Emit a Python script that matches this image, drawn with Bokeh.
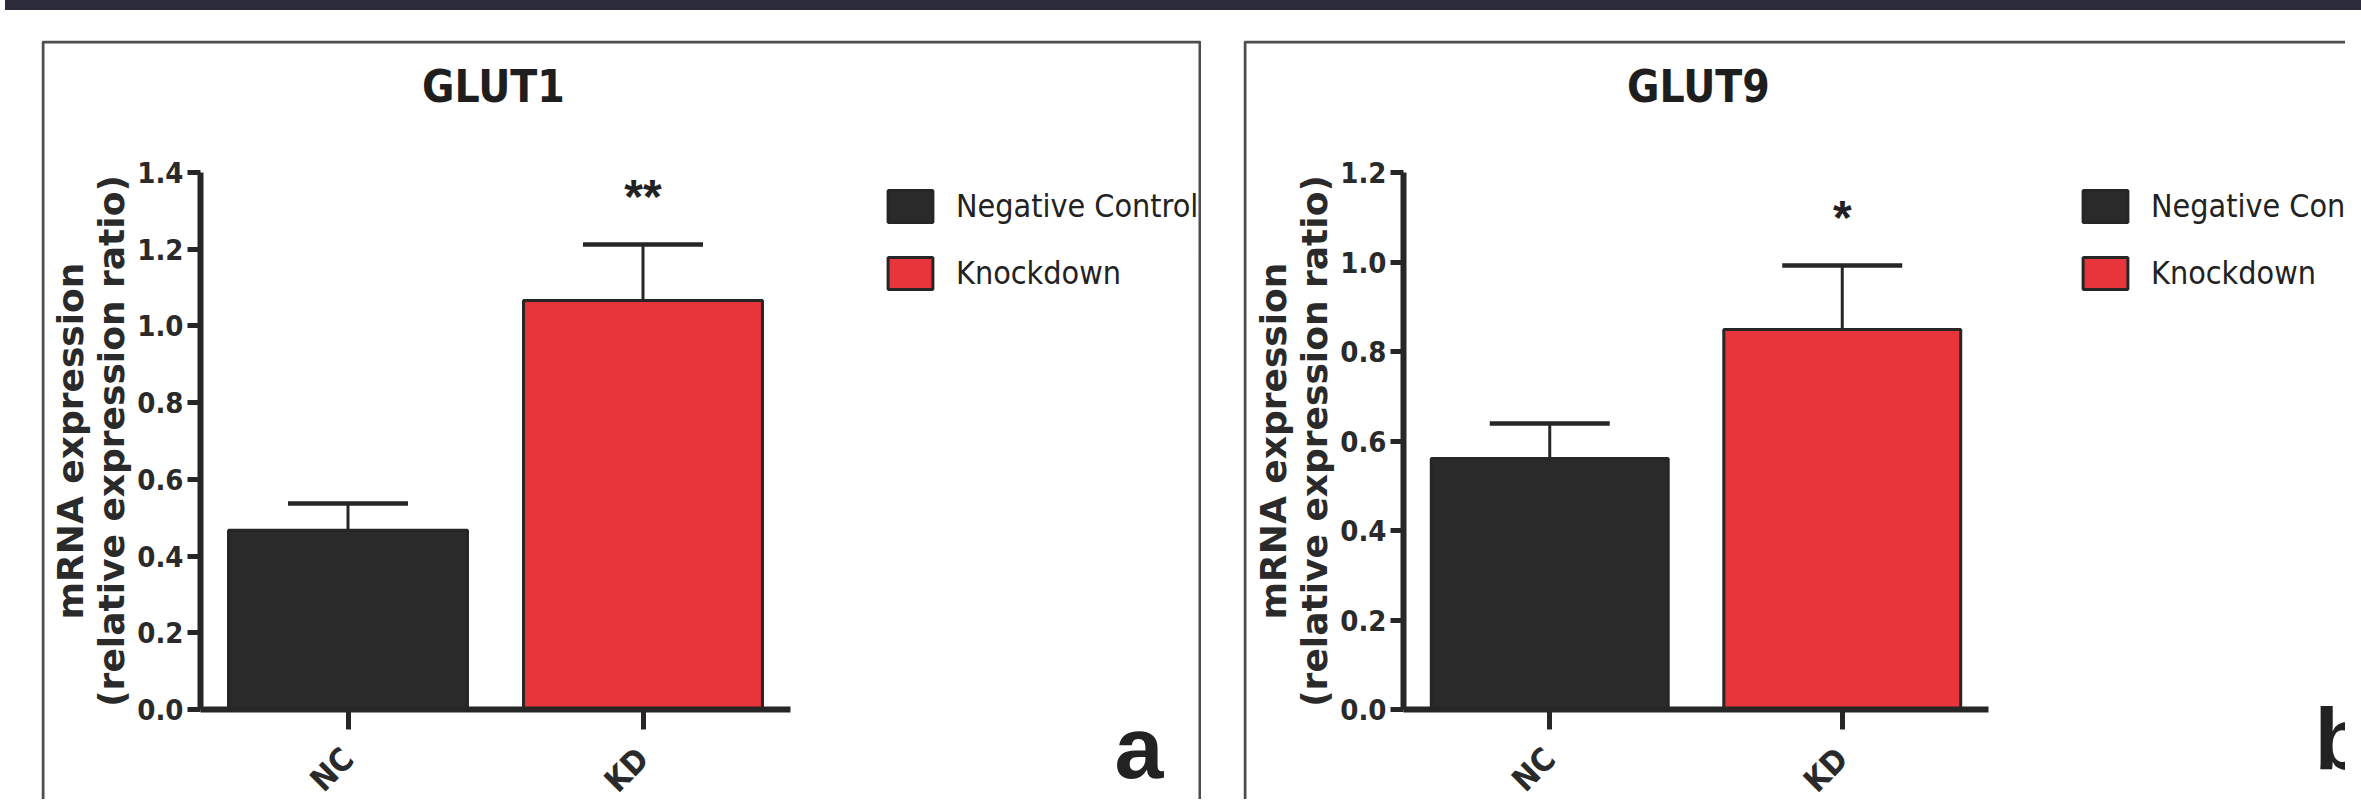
import math
from bokeh.plotting import figure
from bokeh.models import (ColumnDataSource, Range1d, Whisker, TeeHead, Legend, LegendItem,
                          Label, BoxAnnotation, Div, Spacer, FixedTicker, PrintfTickFormatter)
from bokeh.layouts import row, column
from bokeh.core.properties import value
from bokeh.embed import file_html
from bokeh.resources import INLINE

# ---------------- data ----------------
groups = ["NC", "KD"]
series_names = ["Negative Control", "Knockdown"]
bar_colors = ["#2a2a2a", "#e8343b"]
y_label = "mRNA expression\n(relative expression ratio)"

glut1_title = "GLUT1"
glut1_mean = [0.467, 1.066]
glut1_err = [0.070, 0.146]
glut1_sig = ["", "**"]
glut1_ticks = [0.0, 0.2, 0.4, 0.6, 0.8, 1.0, 1.2, 1.4]
glut1_letter = "a"

glut9_title = "GLUT9"
glut9_mean = [0.561, 0.849]
glut9_err = [0.078, 0.143]
glut9_sig = ["", "*"]
glut9_ticks = [0.0, 0.2, 0.4, 0.6, 0.8, 1.0, 1.2]
glut9_letter = "b"

COND = "DejaVu Sans Condensed, Liberation Sans, sans-serif"
INK = "#262626"
TXT = "#222222"


def panel(title, means, errs, sig, ticks, letter, W, H, x0px, x2px, y0px, ytop_px,
          title_cx, leg_x, letter_xy, right_border=True):
    n = len(groups)
    ppx = (x2px - x0px) / n                 # pixels per category
    ymax = ticks[-1]
    ppu = (y0px - ytop_px) / ymax           # pixels per data unit
    xs = [i + 0.5 for i in range(n)]
    upper = [m + e for m, e in zip(means, errs)]
    src = ColumnDataSource(dict(x=xs, mean=means, upper=upper,
                                star_y=[u + 48 / ppu for u in upper],
                                sig=sig, color=bar_colors))

    p = figure(width=W, height=H, output_backend="svg", toolbar_location=None, title=None,
               x_range=Range1d(-x0px / ppx, (W - x0px) / ppx),
               y_range=Range1d(-(H - y0px) / ppu, ymax + ytop_px / ppu),
               min_border_left=0, min_border_right=0, min_border_top=0, min_border_bottom=0)
    p.background_fill_color = "white"
    p.border_fill_color = "white"
    p.outline_line_color = None
    p.xgrid.grid_line_color = None
    p.ygrid.grid_line_color = None

    r = p.vbar(x="x", top="mean", width=0.81, source=src, fill_color="color",
               line_color=INK, line_width=3)

    p.add_layout(Whisker(base="x", upper="upper", lower="mean", source=src,
                         upper_head=TeeHead(size=120, line_width=4.5, line_color=INK),
                         lower_head=None, line_width=3, line_color=INK))

    p.text(x="x", y="star_y", text="sig", source=src, text_font=value("Liberation Sans"),
           text_font_style="bold", text_font_size="48px", text_align="center",
           text_baseline="alphabetic", text_color=TXT)

    # y axis (fixed at x = 0, limited to the tick span)
    ya = p.yaxis[0]
    ya.fixed_location = 0
    ya.bounds = (0, ymax)
    ya.ticker = FixedTicker(ticks=ticks)
    ya.formatter = PrintfTickFormatter(format="%.1f")
    ya.axis_line_width = 6
    ya.axis_line_color = INK
    ya.major_tick_line_width = 5
    ya.major_tick_line_color = INK
    ya.major_tick_out = 13
    ya.major_tick_in = 0
    ya.minor_tick_line_color = None
    ya.major_label_text_font = COND
    ya.major_label_text_font_style = "bold"
    ya.major_label_text_font_size = "29px"
    ya.major_label_text_color = "#2a2a2a"
    ya.major_label_standoff = 4
    ya.axis_label = y_label
    ya.axis_label_text_font = "DejaVu Sans"
    ya.axis_label_text_font_style = "bold"
    ya.axis_label_text_font_size = "36px"
    ya.axis_label_text_color = "#2a2a2a"
    ya.axis_label_text_line_height = 1.0
    ya.axis_label_standoff = 2

    # x axis (fixed at y = 0, spanning the two categories)
    xa = p.xaxis[0]
    xa.fixed_location = 0
    xa.bounds = (0, n)
    xa.ticker = FixedTicker(ticks=xs)
    xa.major_label_overrides = {x: g for x, g in zip(xs, groups)}
    xa.axis_line_width = 6
    xa.axis_line_color = INK
    xa.major_tick_line_width = 5
    xa.major_tick_line_color = INK
    xa.major_tick_out = 20
    xa.major_tick_in = 0
    xa.minor_tick_line_color = None
    xa.major_label_orientation = math.pi / 4
    xa.major_label_text_font = COND
    xa.major_label_text_font_style = "bold"
    xa.major_label_text_font_size = "32px"
    xa.major_label_text_color = "#2a2a2a"
    xa.major_label_standoff = 24

    # title
    p.add_layout(Label(x=title_cx, y=H - 46, x_units="screen", y_units="screen", text=title,
                       text_font=COND, text_font_style="bold", text_font_size="44px",
                       text_align="center", text_baseline="alphabetic", text_color="#1e1e1e"))

    # legend
    items = [LegendItem(label=series_names[i], renderers=[r], index=i) for i in range(n)]
    leg = Legend(items=items, location=(leg_x, H - 253), glyph_width=56, glyph_height=40,
                 spacing=27, label_standoff=18, padding=0, margin=0, border_line_color=None,
                 background_fill_alpha=0, label_text_font=COND,
                 label_text_font_size="32px", label_text_color=TXT)
    p.add_layout(leg)

    # panel letter
    p.add_layout(Label(x=letter_xy[0], y=letter_xy[1], x_units="screen", y_units="screen",
                       text=letter, text_font="Liberation Sans", text_font_style="bold",
                       text_font_size="88px", text_baseline="alphabetic", text_align="left",
                       text_color=TXT))

    # panel border
    p.add_layout(BoxAnnotation(left=1.5, right=(W - 1.5) if right_border else W + 20,
                               top=1.5, bottom=H + 20,
                               left_units="canvas", right_units="canvas",
                               top_units="canvas", bottom_units="canvas",
                               fill_alpha=0, line_alpha=1.0, line_color="#4d4d4d",
                               line_width=3))
    return p


pa = panel(glut1_title, glut1_mean, glut1_err, glut1_sig, glut1_ticks, glut1_letter,
           W=1160, H=759, x0px=159, x2px=749, y0px=669, ytop_px=132,
           title_cx=452, leg_x=841, letter_xy=(1073, 52))
pb = panel(glut9_title, glut9_mean, glut9_err, glut9_sig, glut9_ticks, glut9_letter,
           W=1102, H=759, x0px=160, x2px=745, y0px=669, ytop_px=132,
           title_cx=455, leg_x=834, letter_xy=(1071, 61), right_border=False)

band = Div(text="", width=2345, height=13,
           styles={"background-color": "#2c2c3a", "position": "relative", "top": "-8px",
                   "left": "0px", "box-shadow": "16px 0 0 0 #2c2c3a"})
layout = column(band, Spacer(width=2345, height=17),
                row(Spacer(width=41, height=759), pa, Spacer(width=42, height=759), pb))

open("out.html", "w").write(file_html(layout, INLINE))
